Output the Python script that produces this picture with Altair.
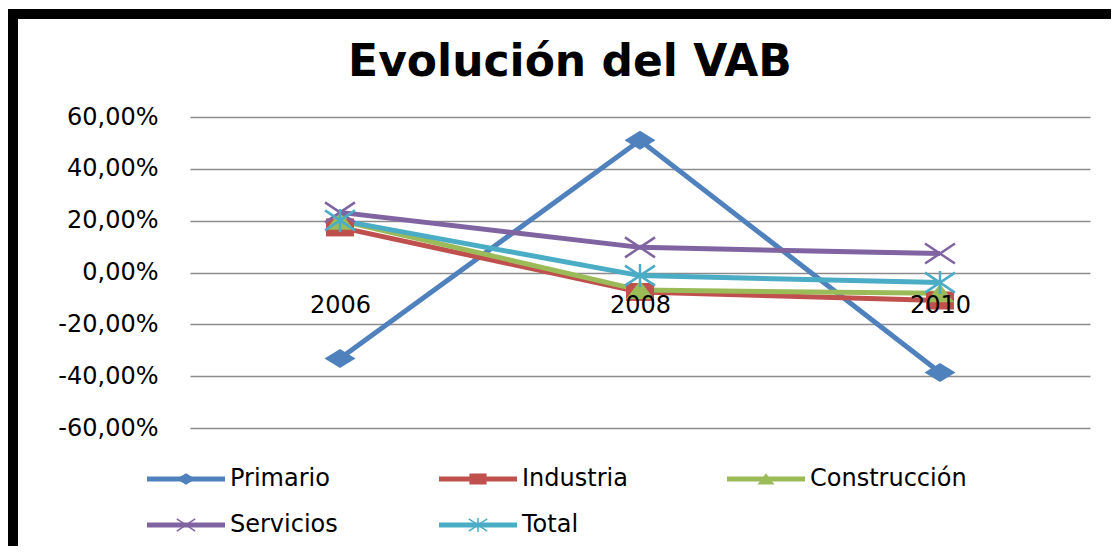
import altair as alt
import pandas as pd

# ---- data ----
years = ["2006", "2008", "2010"]
series = ["Primario", "Industria", "Construcción", "Servicios", "Total"]
primario = [-0.332, 0.510, -0.386]
industria = [0.174, -0.075, -0.108]
construccion = [0.200, -0.068, -0.080]
servicios = [0.232, 0.097, 0.073]
total = [0.201, -0.012, -0.039]
colors = ["#4F81BD", "#C0504D", "#9BBB59", "#8064A2", "#4BACC6"]
y_ticks = [-0.6, -0.4, -0.2, 0.0, 0.2, 0.4, 0.6]
title_text = "Evolución del VAB"

values_by_series = [primario, industria, construccion, servicios, total]
rows = []
for s, vals in zip(series, values_by_series):
    for yr, v in zip(years, vals):
        rows.append({"year": yr, "series": s, "value": v})
df = pd.DataFrame(rows)

FONT = "DejaVu Sans"
W, H = 900, 311
PAD = {"left": 182, "top": 109, "right": 21, "bottom": 118}

# marker paths (stretched horizontally like the reference)
plot_marker = {
    "Primario": "M0,-0.95L1.55,0L0,0.95L-1.55,0Z",
    "Industria": "M-1.4,-0.9H1.4V0.9H-1.4Z",
    "Construcción": "M0,-0.95L1.4,0.9H-1.4Z",
    "Servicios": "M-1.5,-1L1.5,1M-1.5,1L1.5,-1",
    "Total": "M-1.5,-1L1.5,1M-1.5,1L1.5,-1M0,-1.15L0,1.15",
}
filled_series = {"Primario": True, "Industria": True, "Construcción": True,
                 "Servicios": False, "Total": False}
color_of = dict(zip(series, colors))

x_enc = alt.X("year:O", scale=alt.Scale(type="point", padding=0.5),
              axis=alt.Axis(title=None, orient="bottom", offset=-155.5, domain=False,
                            ticks=False, labelAngle=0, labelFontSize=24, labelFont=FONT,
                            labelColor="#000000", labelPadding=21, zindex=1, grid=False))
y_enc = alt.Y("value:Q", scale=alt.Scale(domain=[-0.6, 0.6], nice=False, zero=False),
              axis=alt.Axis(title=None, values=y_ticks, domain=False, ticks=False,
                            labelFontSize=24, labelFont=FONT, labelColor="#000000",
                            labelPadding=32, grid=True, gridColor="#8c8c8c", gridWidth=1.5,
                            labelExpr="replace(replace(format(datum.value, '.2%'), '.', ','), '\u2212', '-')"))
color_scale = alt.Scale(domain=series, range=colors)
color_enc = alt.Color("series:N", scale=color_scale, legend=None)

base = alt.Chart(df)

lines = base.mark_line(strokeWidth=5).encode(
    x=x_enc, y=y_enc, color=color_enc, order=alt.Order("year:O"))

point_layers = []
for s in series:
    if filled_series[s]:
        m = base.mark_point(shape=plot_marker[s], filled=True, size=400, opacity=1)
    else:
        m = base.mark_point(shape=plot_marker[s], filled=False, size=400, opacity=1,
                            strokeWidth=2.5)
    point_layers.append(
        m.transform_filter(alt.datum.series == s).encode(x="year:O", y="value:Q",
                                                         color=color_enc))

# ---- legend (Excel style: line + marker + label), laid out in 3 columns ----
leg_col_x = [-43, 249, 537]      # line start, relative to plot left
leg_row_y = [362, 408]           # row centre, relative to plot top
LINE_LEN, LABEL_GAP = 78, 5
legend_layers = []
for i, s in enumerate(series):
    x0 = leg_col_x[i % 3]
    yc = leg_row_y[i // 3]
    item = alt.Chart(pd.DataFrame({"series": [s]}))
    legend_layers.append(item.mark_rule(strokeWidth=5, color=color_of[s]).encode(
        x=alt.value(x0), x2=alt.value(x0 + LINE_LEN), y=alt.value(yc)))
    if filled_series[s]:
        mk = item.mark_point(shape=plot_marker[s], filled=True, size=150, opacity=1,
                             color=color_of[s])
    else:
        mk = item.mark_point(shape=plot_marker[s], filled=False, size=150, opacity=1,
                             strokeWidth=1.5, color=color_of[s])
    legend_layers.append(mk.encode(x=alt.value(x0 + LINE_LEN / 2), y=alt.value(yc)))
    legend_layers.append(item.mark_text(font=FONT, fontSize=24, align="left",
                                        baseline="middle", color="#000000").encode(
        text="series:N", x=alt.value(x0 + LINE_LEN + LABEL_GAP), y=alt.value(yc)))

one = pd.DataFrame({"t": [title_text]})
title_layer = alt.Chart(one).mark_text(font=FONT, fontSize=44, fontWeight="bold",
                                       align="center", baseline="alphabetic",
                                       color="#000000").encode(
    text="t:N", x=alt.value(380), y=alt.value(-41))

frame = alt.Chart(one).mark_rect(fillOpacity=0, stroke="#000000", strokeWidth=10).encode(
    x=alt.value(-177), x2=alt.value(935), y=alt.value(-103), y2=alt.value(440))

chart = alt.layer(frame, lines, *point_layers, *legend_layers, title_layer).properties(
    width=W, height=H, padding=PAD, background="#ffffff",
    autosize=alt.AutoSizeParams(type="none"),
).configure_view(strokeWidth=0)

chart.save("out.html", embed_options={"renderer": "svg", "actions": False})
